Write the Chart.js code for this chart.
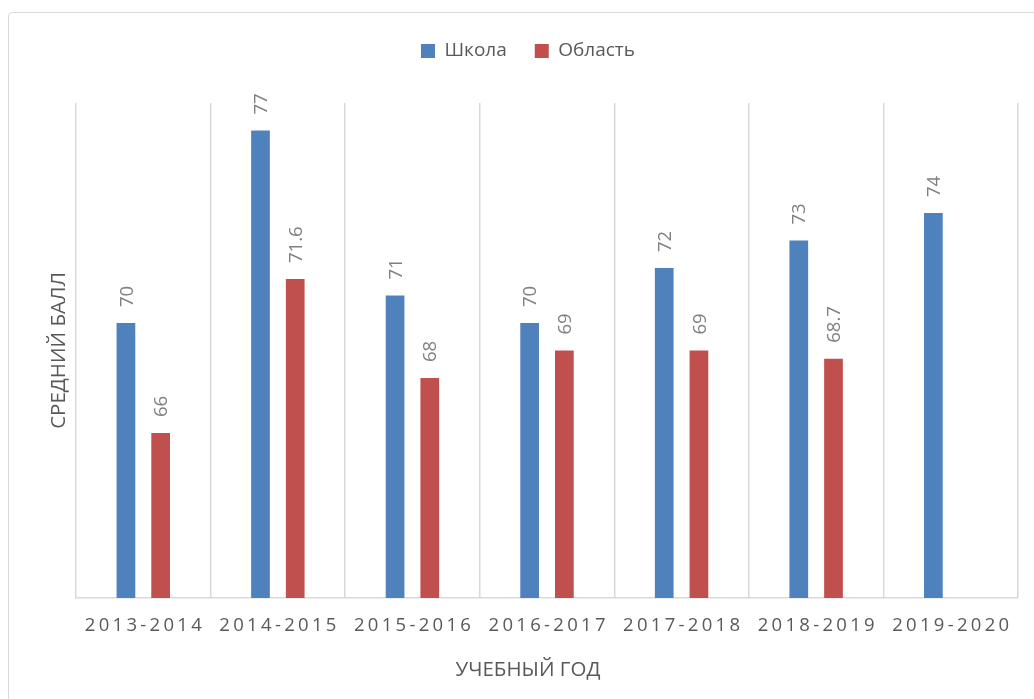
<!DOCTYPE html>
<html>
<head>
<meta charset="utf-8">
<script src="https://cdn.jsdelivr.net/npm/chart.js@4"></script>
<style>
html,body{margin:0;padding:0;background:#fff;overflow:hidden;width:1034px;height:699px}
#frame{position:absolute;left:8px;top:12px;width:1100px;height:800px;border:1.5px solid #d9d9d9;border-radius:4px;box-sizing:border-box}
#c{position:absolute;left:0;top:0}
</style>
</head>
<body>
<div id="frame"></div>
<canvas id="c" width="1034" height="699"></canvas>
<script>
const categories = ['2013-2014', '2014-2015', '2015-2016', '2016-2017', '2017-2018', '2018-2019', '2019-2020'];
const schoolValues = [70, 77, 71, 70, 72, 73, 74];
const regionValues = [66, 71.6, 68, 69, 69, 68.7, null];
const seriesNames = ['Школа', 'Область'];
const yMin = 60;
const yMax = 78;
const xTitleText = 'УЧЕБНЫЙ ГОД';
const yTitleText = 'СРЕДНИЙ БАЛЛ';

const FONT = "'Open Sans', sans-serif";
Chart.defaults.font.family = FONT;
Chart.defaults.color = '#595959';

const tickSpacing = {
  id: 'tickSpacing',
  beforeDraw(chart) {
    const sc = chart.scales.x;
    if (sc && !sc._spaced) {
      const orig = sc.drawLabels;
      sc.drawLabels = function (area) {
        const ctx = this.ctx;
        ctx.save();
        ctx.letterSpacing = '3.3px';
        ctx.translate(1.65, 0);
        orig.call(this, area);
        ctx.restore();
      };
      sc._spaced = true;
    }
  }
};

const LABEL_SIZE = 18.5;
const valueLabels = {
  id: 'valueLabels',
  afterDatasetsDraw(chart) {
    const ctx = chart.ctx;
    ctx.save();
    ctx.font = LABEL_SIZE + 'px ' + FONT;
    ctx.fillStyle = '#808080';
    ctx.textAlign = 'left';
    ctx.textBaseline = 'alphabetic';
    chart.data.datasets.forEach((ds, di) => {
      const meta = chart.getDatasetMeta(di);
      meta.data.forEach((bar, i) => {
        const v = ds.data[i];
        if (v === null || v === undefined) return;
        ctx.save();
        ctx.translate(bar.x + LABEL_SIZE * 0.357, bar.y - 16);
        ctx.rotate(-Math.PI / 2);
        ctx.fillText(String(v), 0, 0);
        ctx.restore();
      });
    });
    ctx.restore();
  }
};

new Chart(document.getElementById('c'), {
  type: 'bar',
  data: {
    labels: categories,
    datasets: [
      { label: seriesNames[0], data: schoolValues, backgroundColor: '#4F81BD', categoryPercentage: 0.516, barPercentage: 0.539 },
      { label: seriesNames[1], data: regionValues, backgroundColor: '#C0504D', categoryPercentage: 0.516, barPercentage: 0.539 }
    ]
  },
  options: {
    responsive: false,
    animation: false,
    layout: { padding: { left: 38, right: 16, top: 13.5, bottom: 16.7 } },
    plugins: {
      legend: {
        position: 'top',
        labels: { boxWidth: 14, boxHeight: 14, padding: 28, color: '#595959', font: { size: 19 } }
      },
      title: {
        display: true,
        text: xTitleText,
        position: 'bottom',
        color: '#595959',
        font: { size: 20.5, weight: 'normal' },
        padding: { top: 21.1, bottom: 0 }
      },
      tooltip: { enabled: false }
    },
    scales: {
      x: {
        position: 'bottom',
        grid: { display: true, color: '#d9d9d9', lineWidth: 1.5, drawTicks: false, offset: true },
        border: { display: true, color: '#d9d9d9', width: 1.5 },
        ticks: { color: '#595959', font: { size: 18.5 }, padding: 16.4, maxRotation: 0, autoSkip: false },
        afterFit(s) { s.height = 38.6; }
      },
      xTop: {
        axis: 'x',
        type: 'category',
        position: 'top',
        display: true,
        grid: { display: false, drawTicks: false },
        border: { display: false },
        ticks: { display: false },
        afterFit(s) { s.height = 32.5; }
      },
      y: {
        min: yMin,
        max: yMax,
        display: true,
        grid: { display: false, drawTicks: false },
        border: { display: false },
        ticks: { display: false },
        title: { display: true, text: yTitleText, color: '#595959', font: { size: 20.5 }, padding: { top: 8.7, bottom: 4.7 } }
      }
    }
  },
  plugins: [tickSpacing, valueLabels]
});
</script>
</body>
</html>
